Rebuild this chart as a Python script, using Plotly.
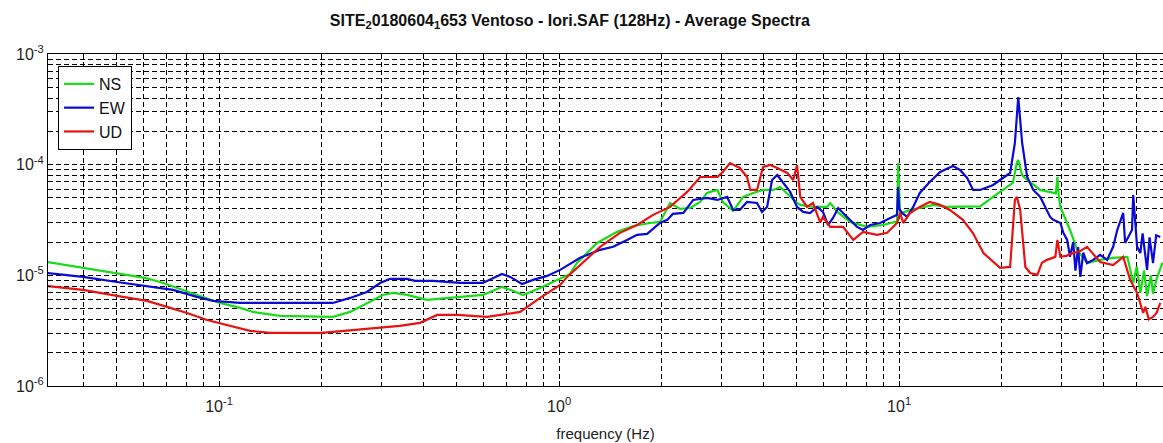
import math
import plotly.graph_objects as go

# ---------------- data ----------------
freq_ns = [0.0312, 0.0398, 0.0501, 0.0605, 0.0671, 0.0768, 0.0879, 0.1007, 0.1153, 0.1259,
           0.151, 0.198, 0.216, 0.243, 0.272, 0.303, 0.325, 0.357, 0.409, 0.447,
           0.512, 0.597, 0.679, 0.733, 0.783, 0.879, 0.986, 1.077, 1.13, 1.294,
           1.481, 1.651, 1.853, 1.98, 2.12, 2.27, 2.43, 2.60, 2.72, 2.92,
           3.03, 3.25, 3.48, 3.72, 3.98, 4.26, 4.47, 4.78, 5.01, 5.12,
           5.58, 6.14, 6.27, 6.58, 7.18, 8.05, 8.97, 9.73, 9.86, 9.93,
           9.98, 10.07, 10.2, 10.77, 11.5, 12.6, 13.8, 15.1, 17.3, 19.8,
           21.6, 22.2, 22.4, 23.0, 23.8, 26.0, 28.4, 28.9, 29.2, 29.5,
           29.8, 31.8, 33.4, 35.7, 39.0, 42.6, 46.9, 48.8, 50.0, 51.2,
           52.5, 53.6, 55.0, 55.8, 57.0, 58.6, 59.5]
amp_ns = [1.32e-5, 1.17e-5, 1.05e-5, 9.48e-6, 8.71e-6, 7.53e-6, 6.52e-6, 5.63e-6, 5.08e-6, 4.67e-6,
          4.30e-6, 4.21e-6, 4.21e-6, 4.67e-6, 5.63e-6, 6.65e-6, 6.93e-6, 6.65e-6, 6.00e-6, 6.12e-6,
          6.38e-6, 6.65e-6, 7.85e-6, 7.23e-6, 6.65e-6, 7.69e-6, 9.09e-6, 1.03e-5, 1.30e-5, 1.96e-5,
          2.47e-5, 2.79e-5, 2.97e-5, 3.04e-5, 4.51e-5, 3.98e-5, 4.06e-5, 4.60e-5, 5.55e-5, 5.91e-5,
          4.60e-5, 3.82e-5, 5.11e-5, 5.55e-5, 5.91e-5, 5.91e-5, 6.29e-5, 5.11e-5, 4.51e-5, 4.33e-5,
          4.15e-5, 4.15e-5, 4.51e-5, 3.74e-5, 3.04e-5, 2.74e-5, 2.85e-5, 3.04e-5, 3.0e-5, 1.035e-4,
          7.0e-5, 3.5e-5, 3.66e-5, 3.90e-5, 4.06e-5, 4.33e-5, 4.15e-5, 4.15e-5, 4.2e-5, 5.67e-5,
          6.84e-5, 1.05e-4, 1.1e-4, 8.0e-5, 7.27e-5, 5.91e-5, 5.55e-5, 5.5e-5, 7.74e-5, 5.0e-5,
          4.15e-5, 2.57e-5, 1.70e-5, 1.29e-5, 1.38e-5, 1.44e-5, 1.47e-5, 8.53e-6, 1.2e-5, 6.9e-6,
          1.1e-5, 6.5e-6, 1.0e-5, 6.8e-6, 9.0e-6, 1.12e-5, 1.3e-5]

freq_ew = [0.0312, 0.0398, 0.0501, 0.0605, 0.0732, 0.0861, 0.0960, 0.1153, 0.198, 0.216,
           0.243, 0.272, 0.2975, 0.318, 0.357, 0.377, 0.426, 0.512, 0.597, 0.640,
           0.679, 0.718, 0.778, 0.839, 0.922, 1.007, 1.153, 1.32, 1.442, 1.585,
           1.695, 1.815, 1.89, 1.98, 2.08, 2.16, 2.32, 2.48, 2.72, 2.92,
           3.12, 3.25, 3.40, 3.57, 3.82, 3.95, 4.09, 4.23, 4.38, 4.56,
           4.78, 5.01, 5.22, 5.47, 5.74, 5.97, 6.18, 6.39, 6.62, 6.84,
           7.18, 7.52, 7.83, 8.22, 8.79, 9.42, 9.86, 9.93, 10.0, 10.2,
           10.56, 11.0, 11.5, 12.3, 13.2, 14.4, 15.1, 15.85, 16.5, 17.3,
           18.9, 19.8, 21.2, 21.9, 22.4, 22.7, 23.0, 23.8, 24.8, 26.0,
           26.5, 27.8, 28.4, 29.8, 30.4, 31.2, 31.8, 32.5, 33.0, 33.6,
           34.1, 34.8, 35.7, 37.2, 39.0, 40.9, 42.6, 43.8, 45.6, 46.2,
           48.4, 48.8, 50.1, 51.2, 52.0, 53.6, 54.5, 55.8, 57.0, 58.6]
amp_ew = [1.05e-5, 9.68e-6, 8.71e-6, 8.02e-6, 7.38e-6, 6.38e-6, 5.87e-6, 5.63e-6, 5.63e-6, 5.63e-6,
          6.25e-6, 7.08e-6, 8.53e-6, 9.28e-6, 9.28e-6, 8.90e-6, 8.90e-6, 8.53e-6, 8.53e-6, 9.48e-6,
          1.03e-5, 9.68e-6, 8.36e-6, 9.09e-6, 9.88e-6, 1.12e-5, 1.44e-5, 1.70e-5, 1.81e-5, 2.09e-5,
          2.32e-5, 2.37e-5, 2.62e-5, 2.97e-5, 3.17e-5, 3.59e-5, 3.66e-5, 4.80e-5, 5.00e-5, 4.80e-5,
          5.11e-5, 3.90e-5, 3.90e-5, 4.60e-5, 4.51e-5, 3.74e-5, 4.15e-5, 7.27e-5, 8.07e-5, 6.84e-5,
          5.67e-5, 4.15e-5, 3.74e-5, 3.66e-5, 4.15e-5, 3.74e-5, 2.85e-5, 3.30e-5, 4.06e-5, 3.66e-5,
          3.17e-5, 2.74e-5, 2.57e-5, 2.85e-5, 2.97e-5, 3.30e-5, 3.52e-5, 6.29e-5, 4.0e-5, 3.66e-5,
          3.37e-5, 4.15e-5, 5.55e-5, 6.98e-5, 8.59e-5, 9.73e-5, 8.96e-5, 7.58e-5, 5.91e-5, 5.91e-5,
          6.56e-5, 7.27e-5, 8.41e-5, 1.57e-4, 4.09e-4, 2.53e-4, 1.57e-4, 7.74e-5, 5.91e-5, 5.11e-5,
          4.51e-5, 3.37e-5, 3.17e-5, 2.97e-5, 2.42e-5, 2.09e-5, 1.47e-5, 2.0e-5, 1.1e-5, 1.8e-5,
          9.68e-6, 1.6e-5, 1.29e-5, 1.38e-5, 1.53e-5, 1.38e-5, 1.81e-5, 2.57e-5, 3.66e-5, 1.96e-5,
          2.57e-5, 5.32e-5, 1.81e-5, 1.59e-5, 2.4e-5, 1.12e-5, 2.2e-5, 1.29e-5, 2.3e-5, 2.22e-5]

freq_ud = [0.0312, 0.0398, 0.0501, 0.0614, 0.0703, 0.0805, 0.0922, 0.1056, 0.1234, 0.1413,
           0.200, 0.216, 0.272, 0.340, 0.390, 0.438, 0.501, 0.614, 0.703, 0.768,
           0.879, 1.007, 1.056, 1.137, 1.32, 1.51, 1.695, 1.89, 2.12, 2.27,
           2.38, 2.60, 2.92, 3.03, 3.18, 3.40, 3.57, 3.65, 3.82, 3.98,
           4.18, 4.38, 4.69, 4.88, 5.01, 5.12, 5.36, 5.58, 5.86, 5.97,
           6.27, 6.84, 7.33, 7.83, 8.61, 9.22, 9.86, 10.07, 10.28, 10.77,
           11.5, 12.3, 13.2, 14.1, 15.4, 16.5, 17.7, 19.8, 21.2, 21.9,
           22.2, 22.7, 23.5, 24.3, 25.5, 26.3, 27.2, 28.8, 29.2, 29.8,
           31.0, 32.5, 34.0, 35.7, 39.0, 42.6, 45.6, 47.8, 50.1, 52.2,
           53.0, 54.2, 55.8, 57.2, 58.6]
amp_ud = [8.02e-6, 7.38e-6, 6.52e-6, 5.87e-6, 5.19e-6, 4.57e-6, 3.95e-6, 3.56e-6, 3.15e-6, 3.02e-6,
          3.02e-6, 3.08e-6, 3.28e-6, 3.49e-6, 3.72e-6, 4.39e-6, 4.39e-6, 4.21e-6, 4.48e-6, 4.67e-6,
          6.25e-6, 8.19e-6, 9.68e-6, 1.19e-5, 1.81e-5, 2.42e-5, 2.85e-5, 3.52e-5, 4.15e-5, 5.00e-5,
          5.67e-5, 7.74e-5, 7.74e-5, 8.59e-5, 1.035e-4, 9.34e-5, 7.74e-5, 5.91e-5, 5.91e-5, 9.53e-5,
          9.93e-5, 9.34e-5, 8.41e-5, 7.27e-5, 9.93e-5, 5.11e-5, 4.15e-5, 4.51e-5, 3.0e-5, 3.37e-5,
          2.74e-5, 2.74e-5, 2.09e-5, 2.47e-5, 2.32e-5, 2.42e-5, 2.97e-5, 3.66e-5, 2.97e-5, 3.66e-5,
          4.15e-5, 4.60e-5, 4.33e-5, 3.90e-5, 3.17e-5, 2.4e-5, 1.59e-5, 1.17e-5, 1.19e-5, 4.80e-5,
          5.11e-5, 3.90e-5, 1.19e-5, 1.05e-5, 1.01e-5, 1.3e-5, 1.38e-5, 1.47e-5, 2.09e-5, 1.47e-5,
          1.5e-5, 1.59e-5, 1.65e-5, 1.81e-5, 1.32e-5, 1.24e-5, 1.47e-5, 9.09e-6, 6.93e-6, 4.57e-6,
          5.2e-6, 4.0e-6, 4.21e-6, 4.6e-6, 5.63e-6]

series_names = ["NS", "EW", "UD"]
series_colors = ["#18dc18", "#0a0ad2", "#e81212"]

x_major = [0.1, 1, 10]
x_major_text = ["10<sup>-1</sup>", "10<sup>0</sup>", "10<sup>1</sup>"]
y_major = [1e-6, 1e-5, 1e-4, 1e-3]
y_major_text = ["10<sup>-6</sup>", "10<sup>-5</sup>", "10<sup>-4</sup>", "10<sup>-3</sup>"]

title_text = "SITE<sub>2</sub>0180604<sub>1</sub>653 Ventoso - Iori.SAF (128Hz) - Average Spectra"
x_title = "frequency (Hz)"

x_min, x_max = 0.0314, 59.7
y_min, y_max = 1e-6, 1e-3

# minor grid positions (2..9 x each decade)
x_minor = [m * 10 ** d for d in range(-2, 2) for m in range(2, 10)]
x_minor = [v for v in x_minor if x_min < v < x_max]
y_minor = [m * 10 ** d for d in range(-6, -3) for m in range(2, 10)]

FONT = "Liberation Sans, Arial, sans-serif"

# ---------------- figure ----------------
fig = go.Figure()
for name, col, fx, fy in zip(series_names, series_colors,
                              [freq_ns, freq_ew, freq_ud], [amp_ns, amp_ew, amp_ud]):
    fig.add_trace(go.Scatter(x=fx, y=fy, mode="lines", name=name,
                             line=dict(color=col, width=2.2)))

dash = "5px,3px"
minor_common = dict(ticks="inside", ticklen=3, tickcolor="black", showgrid=True,
                    gridcolor="black", gridwidth=1, griddash=dash)

fig.update_xaxes(
    type="log", range=[math.log10(x_min), math.log10(x_max)],
    tickmode="array", tickvals=x_major, ticktext=x_major_text,
    ticks="inside", ticklen=5, tickcolor="black",
    showline=True, linecolor="black", linewidth=1, mirror="ticks",
    zeroline=False, showgrid=True, gridcolor="black", gridwidth=1, griddash=dash,
    minor=dict(tickmode="array", tickvals=x_minor, **minor_common),
    tickfont=dict(family=FONT, size=16, color="#222"),
    ticklabelstandoff=6,
    title=dict(text=x_title, font=dict(family=FONT, size=15, color="#222"), standoff=14),
)
fig.update_yaxes(
    type="log", range=[math.log10(y_min), math.log10(y_max)],
    tickmode="array", tickvals=y_major, ticktext=y_major_text,
    ticks="inside", ticklen=5, tickcolor="black",
    showline=True, linecolor="black", linewidth=1, mirror=False,
    zeroline=False, showgrid=True, gridcolor="black", gridwidth=1, griddash=dash,
    minor=dict(tickmode="array", tickvals=y_minor, **minor_common),
    tickfont=dict(family=FONT, size=16, color="#222"),
)

fig.update_layout(
    width=1163, height=443,
    margin=dict(l=48, r=0, t=54, b=57, autoexpand=False),
    paper_bgcolor="white", plot_bgcolor="white",
    title=dict(text="<b>" + title_text + "</b>", x=0.468, xref="paper", xanchor="center",
               y=0.955, yanchor="middle",
               font=dict(family=FONT, size=16, color="#111")),
    legend=dict(x=0.009, y=0.964, xanchor="left", yanchor="top",
                bgcolor="white", bordercolor="black", borderwidth=1,
                font=dict(family=FONT, size=16, color="#111"),
                tracegroupgap=4),
    showlegend=True,
)

fig.write_html("out.html", config={"displayModeBar": False},
               post_script="document.body.style.margin='0';")
